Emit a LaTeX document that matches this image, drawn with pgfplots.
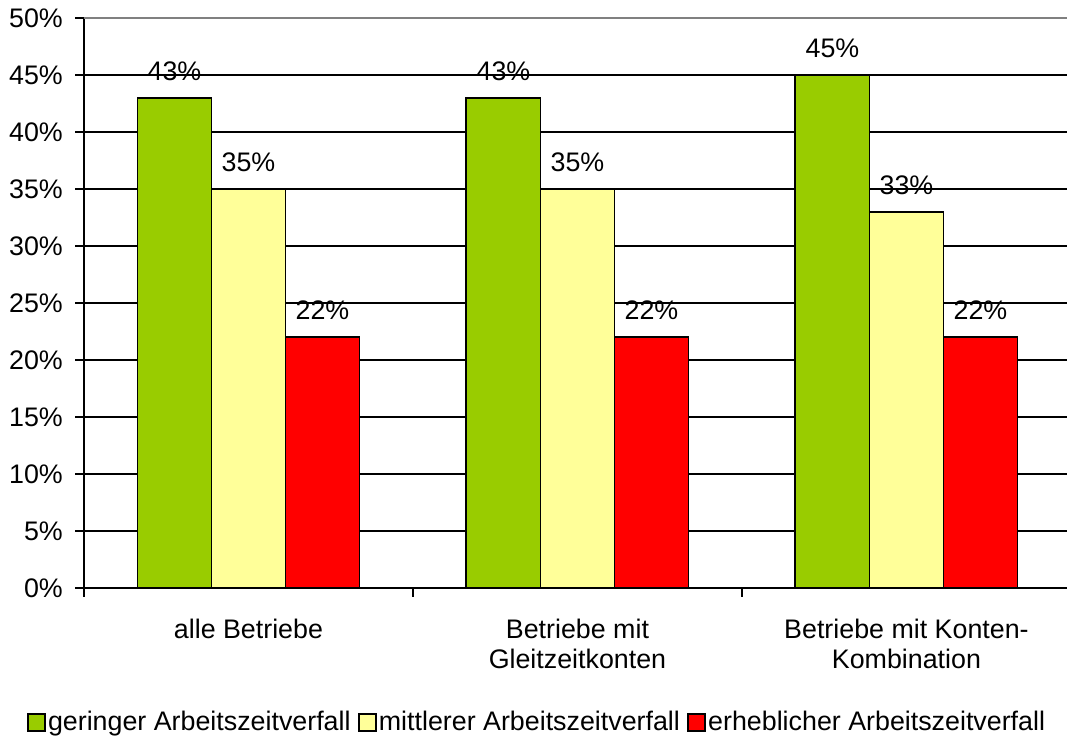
\documentclass[border=0pt]{standalone}
\usepackage{pgfplots}
\pgfplotsset{compat=1.18}
\usepackage{fontspec}
\setmainfont{Liberation Sans}
\definecolor{cgreen}{HTML}{99CC00}
\definecolor{cyellow}{HTML}{FFFF99}
\definecolor{cred}{HTML}{FF0000}
\begin{document}
\fontsize{11.4pt}{12.8pt}\selectfont
\begin{tikzpicture}
\useasboundingbox (-35.7pt,-64.6pt) rectangle (417.8pt,249.9pt);
\begin{axis}[
  at={(0pt,0pt)}, anchor=south west,
  scale only axis, width=417.8pt, height=242.2pt,
  ybar, bar width=0.225,
  xmin=-0.5, xmax=2.488,
  ymin=0, ymax=50,
  clip=false,
  axis x line*=bottom, axis y line*=left,
  axis line style={line width=1pt, -},
  ymajorgrids, grid style={black, line width=0.8pt},
  ytick={0,5,...,50},
  yticklabel={\pgfmathprintnumber{\tick}\%},
  /pgf/number format/assume math mode=true,
  tick align=outside,
  major tick length=3.8pt,
  tick style={black, line width=0.8pt},
  yticklabel style={inner sep=0pt, xshift=-5pt},
  xtick={-0.5,0.5,1.5},
  xticklabels={},
  extra x ticks={0,1,2},
  extra x tick labels={alle Betriebe,{Betriebe mit\\Gleitzeitkonten},{Betriebe mit Konten-\\Kombination}},
  extra x tick style={major tick length=0pt, xticklabel style={align=center, inner sep=0pt, anchor=north, yshift=-13pt}},
  nodes near coords={\pgfmathprintnumber{\pgfplotspointmeta}\%},
  nodes near coords style={anchor=base, inner sep=0pt, yshift=7.5pt, black},
  legend style={draw=none, at={(0.461,-0.236)}, anchor=center, legend columns=-1,
    /tikz/every even column/.append style={column sep=2pt},
    nodes={inner sep=1pt}},
]
\addplot[fill=cgreen, draw=black, line width=0.8pt, bar shift=-0.225,
  legend image code/.code={\draw[fill=cgreen, draw=black, line width=0.8pt] (0pt,-3.7pt) rectangle (7.2pt,3.7pt);}]
  coordinates {(0,43) (1,43) (2,45)};
\addplot[fill=cyellow, draw=black, line width=0.8pt, bar shift=0,
  legend image code/.code={\draw[fill=cyellow, draw=black, line width=0.8pt] (0pt,-3.7pt) rectangle (7.2pt,3.7pt);}]
  coordinates {(0,35) (1,35) (2,33)};
\addplot[fill=cred, draw=black, line width=0.8pt, bar shift=0.225,
  legend image code/.code={\draw[fill=cred, draw=black, line width=0.8pt] (0pt,-3.7pt) rectangle (7.2pt,3.7pt);}]
  coordinates {(0,22) (1,22) (2,22)};
\legend{geringer Arbeitszeitverfall,mittlerer Arbeitszeitverfall,erheblicher Arbeitszeitverfall}
\draw[gray, line width=0.8pt] (rel axis cs:0,1) -- (rel axis cs:1,1);
\end{axis}
\end{tikzpicture}
\end{document}
